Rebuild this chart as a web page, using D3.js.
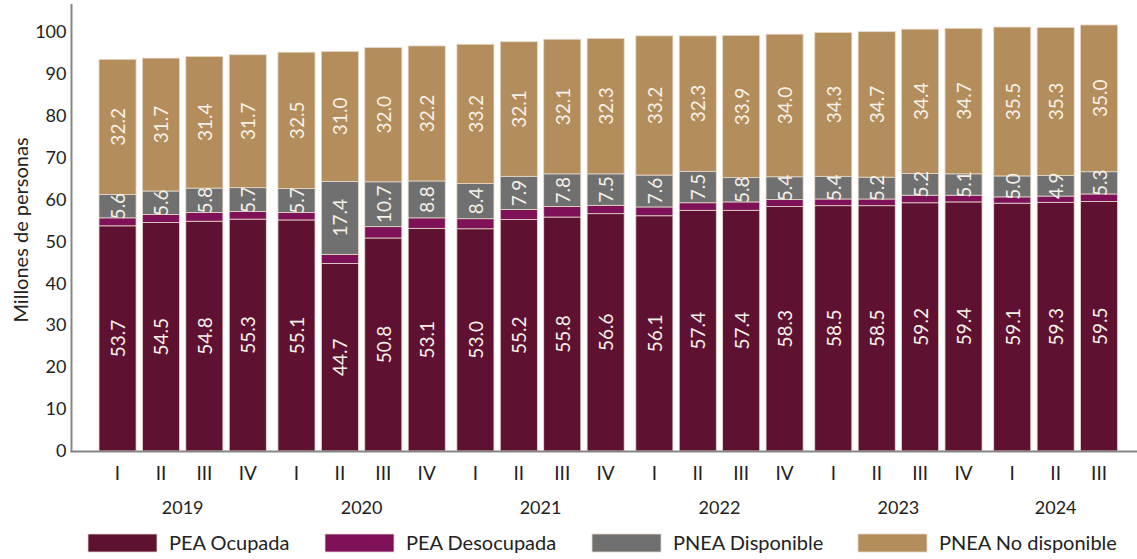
<!DOCTYPE html>
<html>
<head>
<meta charset="utf-8">
<script src="https://cdn.jsdelivr.net/npm/d3@7"></script>
<style>
  body { margin: 0; background: #fff; }
  svg { display: block; font-family: Lato, "Open Sans", sans-serif; }
</style>
</head>
<body>
<div id="chart"></div>
<script>
// ---------- data ----------
var years = ["2019", "2020", "2021", "2022", "2023", "2024"];
var quarters = ["I", "II", "III", "IV"];
var seriesNames = ["PEA Ocupada", "PEA Desocupada", "PNEA Disponible", "PNEA No disponible"];

var peaOcupada    = [53.7, 54.5, 54.8, 55.3, 55.1, 44.7, 50.8, 53.1, 53.0, 55.2, 55.8, 56.6, 56.1, 57.4, 57.4, 58.3, 58.5, 58.5, 59.2, 59.4, 59.1, 59.3, 59.5];
var peaDesocupada = [1.9, 1.9, 2.1, 1.8, 1.8, 2.2, 2.7, 2.5, 2.4, 2.4, 2.5, 2.0, 2.1, 1.8, 2.0, 1.7, 1.6, 1.6, 1.8, 1.6, 1.5, 1.5, 1.8];
var pneaDisp      = [5.6, 5.6, 5.8, 5.7, 5.7, 17.4, 10.7, 8.8, 8.4, 7.9, 7.8, 7.5, 7.6, 7.5, 5.8, 5.4, 5.4, 5.2, 5.2, 5.1, 5.0, 4.9, 5.3];
var pneaNoDisp    = [32.2, 31.7, 31.4, 31.7, 32.5, 31.0, 32.0, 32.2, 33.2, 32.1, 32.1, 32.3, 33.2, 32.3, 33.9, 34.0, 34.3, 34.7, 34.4, 34.7, 35.5, 35.3, 35.0];

var yTicks = [0, 10, 20, 30, 40, 50, 60, 70, 80, 90, 100];
var colors = ["#5f1132", "#7e1158", "#707071", "#b38d5c"];
var labelled = [true, false, true, true];

// build rows
var data = peaOcupada.map(function(v, i) {
  return {
    year: years[Math.floor(i / 4)],
    q: quarters[i % 4],
    "PEA Ocupada": v,
    "PEA Desocupada": peaDesocupada[i],
    "PNEA Disponible": pneaDisp[i],
    "PNEA No disponible": pneaNoDisp[i]
  };
});

// ---------- setup ----------
var svgWidth = 1137, svgHeight = 559;
var svg = d3.select("#chart").append("svg").attr("width", svgWidth).attr("height", svgHeight);

var yearX = d3.scaleBand().domain(years).range([99, 1161]).paddingInner(0.065);
var qX = d3.scaleBand().domain(quarters).range([0, yearX.bandwidth()]).paddingInner(0.146);
var y = d3.scaleLinear().domain([0, 106.6]).range([451, 4]);

function barX(d) { return yearX(d.year) + qX(d.q); }

// ---------- stacked bars ----------
var stack = d3.stack().keys(seriesNames)(data);
var fmt = d3.format(".1f");

var layers = svg.append("g").selectAll("g")
  .data(stack)
  .enter()
  .append("g")
  .attr("fill", (s, i) => colors[i]);

layers.selectAll("rect")
  .data(s => s)
  .enter()
  .append("rect")
  .attr("x", d => barX(d.data))
  .attr("y", d => y(d[1]))
  .attr("width", qX.bandwidth())
  .attr("height", d => y(d[0]) - y(d[1]))
  .attr("stroke", "#e6d9c8")
  .attr("stroke-width", 0.8);

// value labels
stack.forEach(function(s, i) {
  if (!labelled[i]) return;
  svg.append("g").selectAll("text")
    .data(s)
    .enter()
    .append("text")
    .attr("transform", d => `translate(${barX(d.data) + qX.bandwidth() / 2}, ${(y(d[0]) + y(d[1])) / 2}) rotate(-90)`)
    .attr("text-anchor", "middle")
    .attr("dominant-baseline", "central")
    .attr("fill", "#f6f1e8")
    .attr("font-size", "19px")
    .text(d => fmt(d[1] - d[0]));
});

// ---------- axes ----------
var yAxis = svg.append("g").attr("transform", "translate(71.5,0)")
  .call(d3.axisLeft(y).tickValues(yTicks).tickSize(0).tickPadding(5));
yAxis.select(".domain").remove();
yAxis.selectAll("text").attr("font-size", "18px").attr("fill", "#222").attr("font-family", "Lato, sans-serif");

svg.append("line").attr("x1", 71.5).attr("x2", 71.5).attr("y1", 4).attr("y2", 452)
  .attr("stroke", "#858585").attr("stroke-width", 2);
svg.append("line").attr("x1", 70.5).attr("x2", 1137).attr("y1", 451.5).attr("y2", 451.5)
  .attr("stroke", "#858585").attr("stroke-width", 2);

// quarter labels
svg.append("g").selectAll("text")
  .data(data)
  .enter()
  .append("text")
  .attr("x", d => barX(d) + qX.bandwidth() / 2)
  .attr("y", 480)
  .attr("text-anchor", "middle")
  .attr("font-size", "19px")
  .attr("fill", "#222")
  .text(d => d.q);

// year labels, centred on the bars each year has
svg.append("g").selectAll("text")
  .data(years)
  .enter()
  .append("text")
  .attr("x", function(yr) {
    var rows = data.filter(d => d.year === yr);
    var first = barX(rows[0]), last = barX(rows[rows.length - 1]) + qX.bandwidth();
    return (first + last) / 2;
  })
  .attr("y", 514)
  .attr("text-anchor", "middle")
  .attr("font-size", "18px")
  .attr("fill", "#222")
  .text(d => d);

// y title
svg.append("text")
  .attr("transform", "translate(28, 230) rotate(-90)")
  .attr("text-anchor", "middle")
  .attr("font-size", "20px")
  .attr("fill", "#222")
  .text("Millones de personas");

// ---------- legend ----------
var legendX = [88, 325, 592, 858];
var legend = svg.append("g").selectAll("g")
  .data(seriesNames)
  .enter()
  .append("g")
  .attr("transform", (d, i) => `translate(${legendX[i]}, 534)`);

legend.append("rect")
  .attr("width", 69).attr("height", 18)
  .attr("fill", (d, i) => colors[i])
  .attr("stroke", "#e6d9c8").attr("stroke-width", 0.8);

legend.append("text")
  .attr("x", 81).attr("y", 16)
  .attr("font-size", "20px")
  .attr("fill", "#222")
  .text(d => d);
</script>
</body>
</html>
